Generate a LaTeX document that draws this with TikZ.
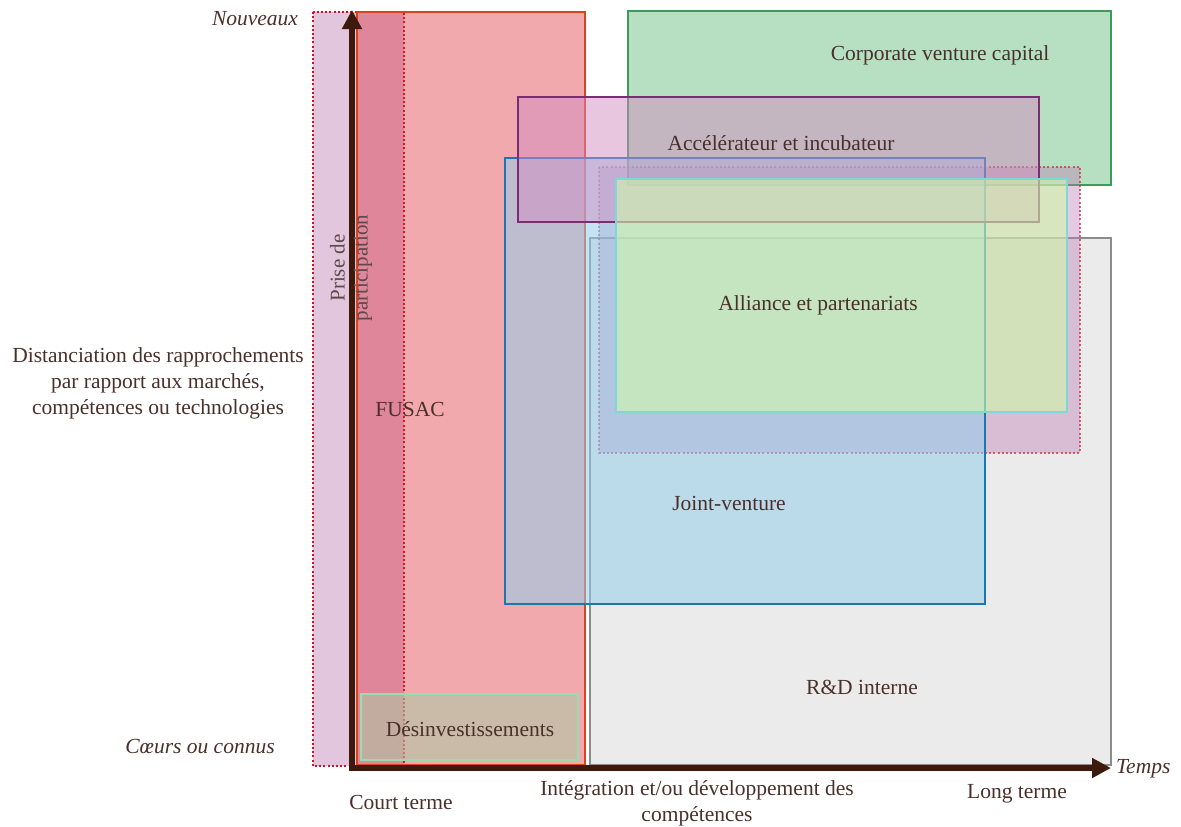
\documentclass[tikz,border=0pt]{standalone}
\usepackage{fontspec}
\setmainfont{Liberation Serif}
\usetikzlibrary{arrows.meta}
\definecolor{txt}{HTML}{4A302A}
\definecolor{ptxt}{HTML}{5E4848}
\definecolor{axiscol}{HTML}{3D1A0C}
\definecolor{rdfill}{HTML}{EBEBEB}
\definecolor{rdline}{HTML}{8C8C8C}
\definecolor{prisefill}{HTML}{E1C6DE}
\definecolor{priseline}{HTML}{D0101E}
\definecolor{fusacfill}{RGB}{222,40,52}
\definecolor{fusacline}{HTML}{D9441C}
\definecolor{cvcfill}{HTML}{B7E0C2}
\definecolor{cvcline}{HTML}{3E9A58}
\definecolor{accfill}{RGB}{209,141,193}
\definecolor{accline}{HTML}{7B2D72}
\definecolor{dotfill}{RGB}{190,120,180}
\definecolor{dotline}{HTML}{C8283C}
\definecolor{jvfill}{RGB}{148,206,235}
\definecolor{jvline}{HTML}{1A78B0}
\definecolor{allfill}{RGB}{208,250,170}
\definecolor{allline}{HTML}{7FD8D8}
\definecolor{desfill}{RGB}{171,202,164}
\definecolor{desline}{HTML}{98DCB0}
\tikzset{
  boxline/.style={line width=2pt},
  dotborder/.style={line width=2pt, dash pattern=on 2pt off 2.2pt},
  lbl/.style={inner sep=0pt, text=txt, align=center},
  ilbl/.style={inner sep=0pt, text=txt, font=\fontsize{21.5}{26}\selectfont\itshape},
  axisline/.style={line width=5.5pt, draw=axiscol, line join=miter,
    {Triangle[length=19pt,width=19pt]}-{Triangle[length=19pt,width=19pt]}},
}
\begin{document}
\begin{tikzpicture}[x=1pt,y=-1pt, font=\fontsize{21.5}{26}\selectfont]
\useasboundingbox (0,0) rectangle (1181,827);
% Prise de participation (dotted lilac)
\fill[prisefill] (313,12) rectangle (404,766);
\draw[dotborder, priseline] (313,12) rectangle (404,766);
% FUSAC
\fill[fusacfill, fill opacity=0.4] (357,12) rectangle (585,765);
\draw[boxline, fusacline] (357,12) rectangle (585,765);
% R&D interne
\fill[rdfill] (590,238) rectangle (1111,765);
\draw[boxline, rdline] (590,238) rectangle (1111,765);
% Corporate venture capital
\fill[cvcfill] (628,11) rectangle (1111,185);
\draw[boxline, cvcline] (628,11) rectangle (1111,185);
% dotted outer box
\fill[dotfill, fill opacity=0.4] (599,167) rectangle (1080,453);
\draw[dotborder, dotline, draw opacity=0.7] (599,167) rectangle (1080,453);
% Joint-venture
\fill[jvfill, fill opacity=0.55] (505,158) rectangle (985,604);
\draw[boxline, jvline] (505,158) rectangle (985,604);
% Accelerateur
\fill[accfill, fill opacity=0.5] (518,97) rectangle (1039,222);
\draw[boxline, accline] (518,97) rectangle (1039,222);
% Alliance
\fill[allfill, fill opacity=0.6] (616,179) rectangle (1067,412);
\draw[boxline, allline] (616,179) rectangle (1067,412);
% Desinvestissements
\fill[desfill, fill opacity=0.55] (361,694) rectangle (578,760);
\draw[boxline, desline] (361,694) rectangle (578,760);
% axes
\coordinate (O) at (352,768);
\coordinate (ytop) at (352,10);
\coordinate (xend) at (1111,768);
\draw[axisline] (ytop) -- (O) -- (xend);
% labels
\node[lbl] (cvc) at (940,55) {Corporate venture capital};
\node[lbl] (acc) at (781,143) {Accélérateur et incubateur};
\node[lbl] (all) at (818,305) {Alliance et partenariats};
\node[lbl] (jv) at (729,503) {Joint-venture};
\node[lbl] (rd) at (862,687) {R\&D interne};
\node[lbl] (fusac) at (410,409) {FUSAC};
\node[lbl] (des) at (470,729) {Désinvestissements};
\node[lbl, text=ptxt, rotate=90, font=\fontsize{21}{23}\selectfont] (prise) at (351,268) {Prise de\\participation};
\node[ilbl] (nouv) at (255,19) {Nouveaux};
\node[ilbl] (coeur) at (200,747) {Cœurs ou connus};
\node[ilbl, anchor=west] (temps) at (1116,769) {Temps};
\node[lbl] (dist) at (158,383) {Distanciation des rapprochements\\par rapport aux marchés,\\compétences ou technologies};
\node[lbl] (court) at (401,802) {Court terme};
\node[lbl] (integ) at (697,803) {Intégration et/ou développement des\\compétences};
\node[lbl] (long) at (1017,794) {Long terme};
\end{tikzpicture}
\end{document}
